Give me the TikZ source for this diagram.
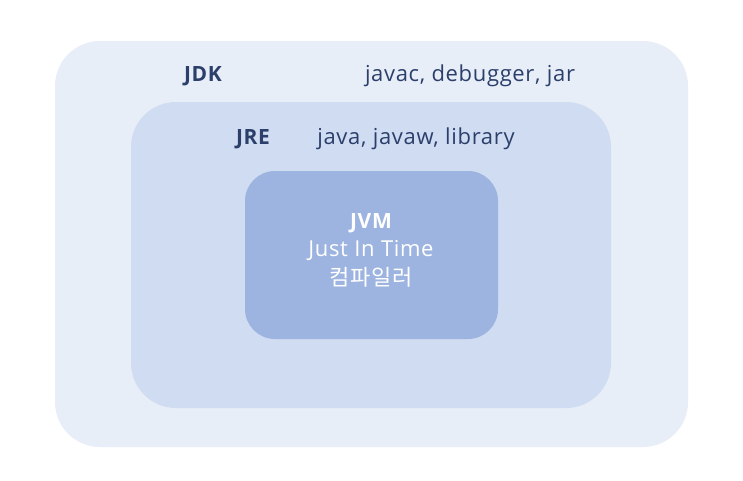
\documentclass[tikz,border=0pt]{standalone}
\usepackage{fontspec}
\setmainfont{Open Sans}[LetterSpace=3]
\newfontfamily\krfont{Noto Sans CJK KR}[LetterSpace=3]
\definecolor{jdkfill}{HTML}{E8EEF8}
\definecolor{jrefill}{HTML}{D0DCF1}
\definecolor{jvmfill}{HTML}{9CB4DF}
\definecolor{navy}{HTML}{2B3F6B}
\begin{document}
\begin{tikzpicture}[x=1pt,y=-1pt,
  box/.style={rounded corners=#1, draw=none},
  lbl/.style={text=navy, font=\fontsize{22}{24}\selectfont, inner sep=0pt, anchor=center},
  bold/.style={lbl, font=\fontsize{21}{24}\selectfont\bfseries}]
\useasboundingbox (0,0) rectangle (743,480);
\fill[white] (0,0) rectangle (743,480);
\path[fill=jdkfill, box=45] (55,41) rectangle (688,447);
\node[inner sep=0pt] (jdk) at (371,244) {};
\path[fill=jrefill, box=45] (131,102) rectangle (611,408);
\node[inner sep=0pt] (jre) at (371,255) {};
\path[fill=jvmfill, box=30] (245,171) rectangle (498,339);
\node[bold] (jdklbl) at (203,76) {JDK};
\node[lbl] (jdktools) at (470,76) {javac, debugger, jar};
\node[bold] (jrelbl) at (253,139) {JRE};
\node[lbl] (jretools) at (416,139) {java, javaw, library};
\node[bold, text=white] (jvmlbl) at (371,223) {JVM};
\node[lbl, text=white] (jit) at (371,250) {Just In Time};
\node[lbl, text=white, font=\fontsize{22}{24}\krfont] (comp) at (371,277) {컴파일러};
\end{tikzpicture}
\end{document}
